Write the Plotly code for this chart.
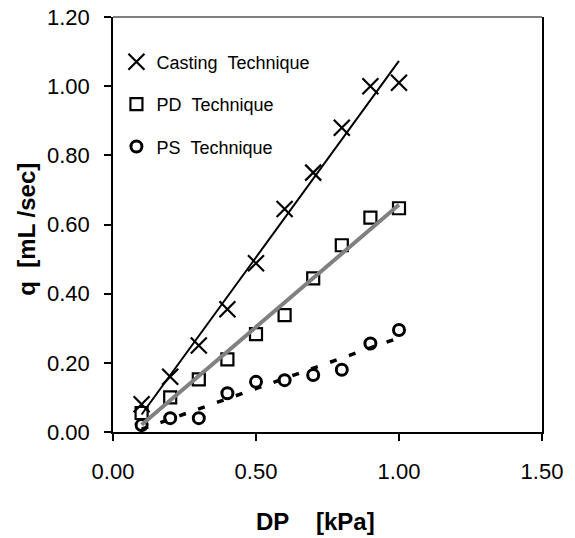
import numpy as np
import plotly.graph_objects as go

dp = [0.1, 0.2, 0.3, 0.4, 0.5, 0.6, 0.7, 0.8, 0.9, 1.0]
q_casting = [0.08, 0.16, 0.25, 0.355, 0.488, 0.645, 0.75, 0.88, 1.00, 1.01]
q_pd = [0.055, 0.10, 0.152, 0.21, 0.283, 0.338, 0.444, 0.54, 0.62, 0.647]
q_ps = [0.02, 0.04, 0.04, 0.112, 0.145, 0.15, 0.165, 0.18, 0.256, 0.295]

x_ticks = [0.0, 0.5, 1.0, 1.5]
y_ticks = [0.0, 0.2, 0.4, 0.6, 0.8, 1.0, 1.2]

FONT = "Liberation Sans, Arial, sans-serif"
NB = "\u00a0"


def fit(x, y):
    x = np.array(x)
    m, b = np.polyfit(x, np.array(y), 1)
    xs = np.array([x.min(), x.max()])
    return xs, m * xs + b


fig = go.Figure()

fig.add_trace(go.Scatter(
    x=dp, y=q_casting, mode="markers", name="Casting" + NB * 2 + "Technique",
    legendgroup="a",
    marker=dict(symbol="x-thin-open", size=16, color="black",
                line=dict(color="black", width=2.2))))
fig.add_trace(go.Scatter(
    x=dp, y=q_pd, mode="markers", name="PD" + NB * 2 + "Technique",
    legendgroup="b",
    marker=dict(symbol="square-open", size=12, color="black",
                line=dict(color="black", width=2.2))))
fig.add_trace(go.Scatter(
    x=dp, y=q_ps, mode="markers", name="PS" + NB * 2 + "Technique",
    legendgroup="c",
    marker=dict(symbol="circle-open", size=11, color="black",
                line=dict(color="black", width=3))))

xs, ys = fit(dp, q_casting)
fig.add_trace(go.Scatter(x=xs, y=ys, mode="lines", showlegend=False,
                         line=dict(color="black", width=2)))
xs, ys = fit(dp, q_pd)
fig.add_trace(go.Scatter(x=xs, y=ys, mode="lines", showlegend=False,
                         line=dict(color="#808080", width=4)))
xs, ys = fit(dp, q_ps)
fig.add_trace(go.Scatter(x=xs, y=ys, mode="lines", showlegend=False,
                         line=dict(color="black", width=3.5, dash="7px,13px")))

axis_common = dict(
    showline=True, linecolor="black", linewidth=1.5,
    ticks="outside", ticklen=7, tickwidth=1.5, tickcolor="black",
    showgrid=False, zeroline=False, tickformat=".2f", automargin=False,
    ticklabeloverflow="allow",
    tickfont=dict(family=FONT, size=22, color="black"),
)

fig.update_xaxes(range=[0, 1.5], tickvals=x_ticks, ticklabelstandoff=12,
                 **axis_common)
fig.update_yaxes(range=[0, 1.2], tickvals=y_ticks, mirror=True,
                 ticklabelstandoff=10, **axis_common)

fig.add_shape(type="line", xref="paper", yref="paper", x0=0, x1=1, y0=1, y1=1,
              line=dict(color="#808080", width=2))

fig.add_annotation(text="<b>DP" + NB * 4 + "[kPa]</b>", xref="paper", yref="paper",
                   x=0.473, y=-0.215, xanchor="center", yanchor="middle",
                   showarrow=False,
                   font=dict(family=FONT, size=24, color="black"))
fig.add_annotation(text="<b>q" + NB * 2 + "[mL /sec]</b>", xref="paper", yref="paper",
                   x=-0.2005, y=0.49, xanchor="center", yanchor="middle",
                   showarrow=False, textangle=-90,
                   font=dict(family=FONT, size=24, color="black"))

fig.update_layout(
    width=575, height=538,
    margin=dict(l=113, r=33, t=17, b=106),
    paper_bgcolor="white", plot_bgcolor="white",
    showlegend=True,
    legend=dict(x=0.008, y=0.936, xanchor="left", yanchor="top",
                bgcolor="rgba(0,0,0,0)", tracegroupgap=16,
                font=dict(family=FONT, size=18, color="black")),
)

fig.write_html(
    "out.html",
    config={"displayModeBar": False},
    post_script="document.body.style.margin='0';document.body.style.overflow='hidden';",
)
